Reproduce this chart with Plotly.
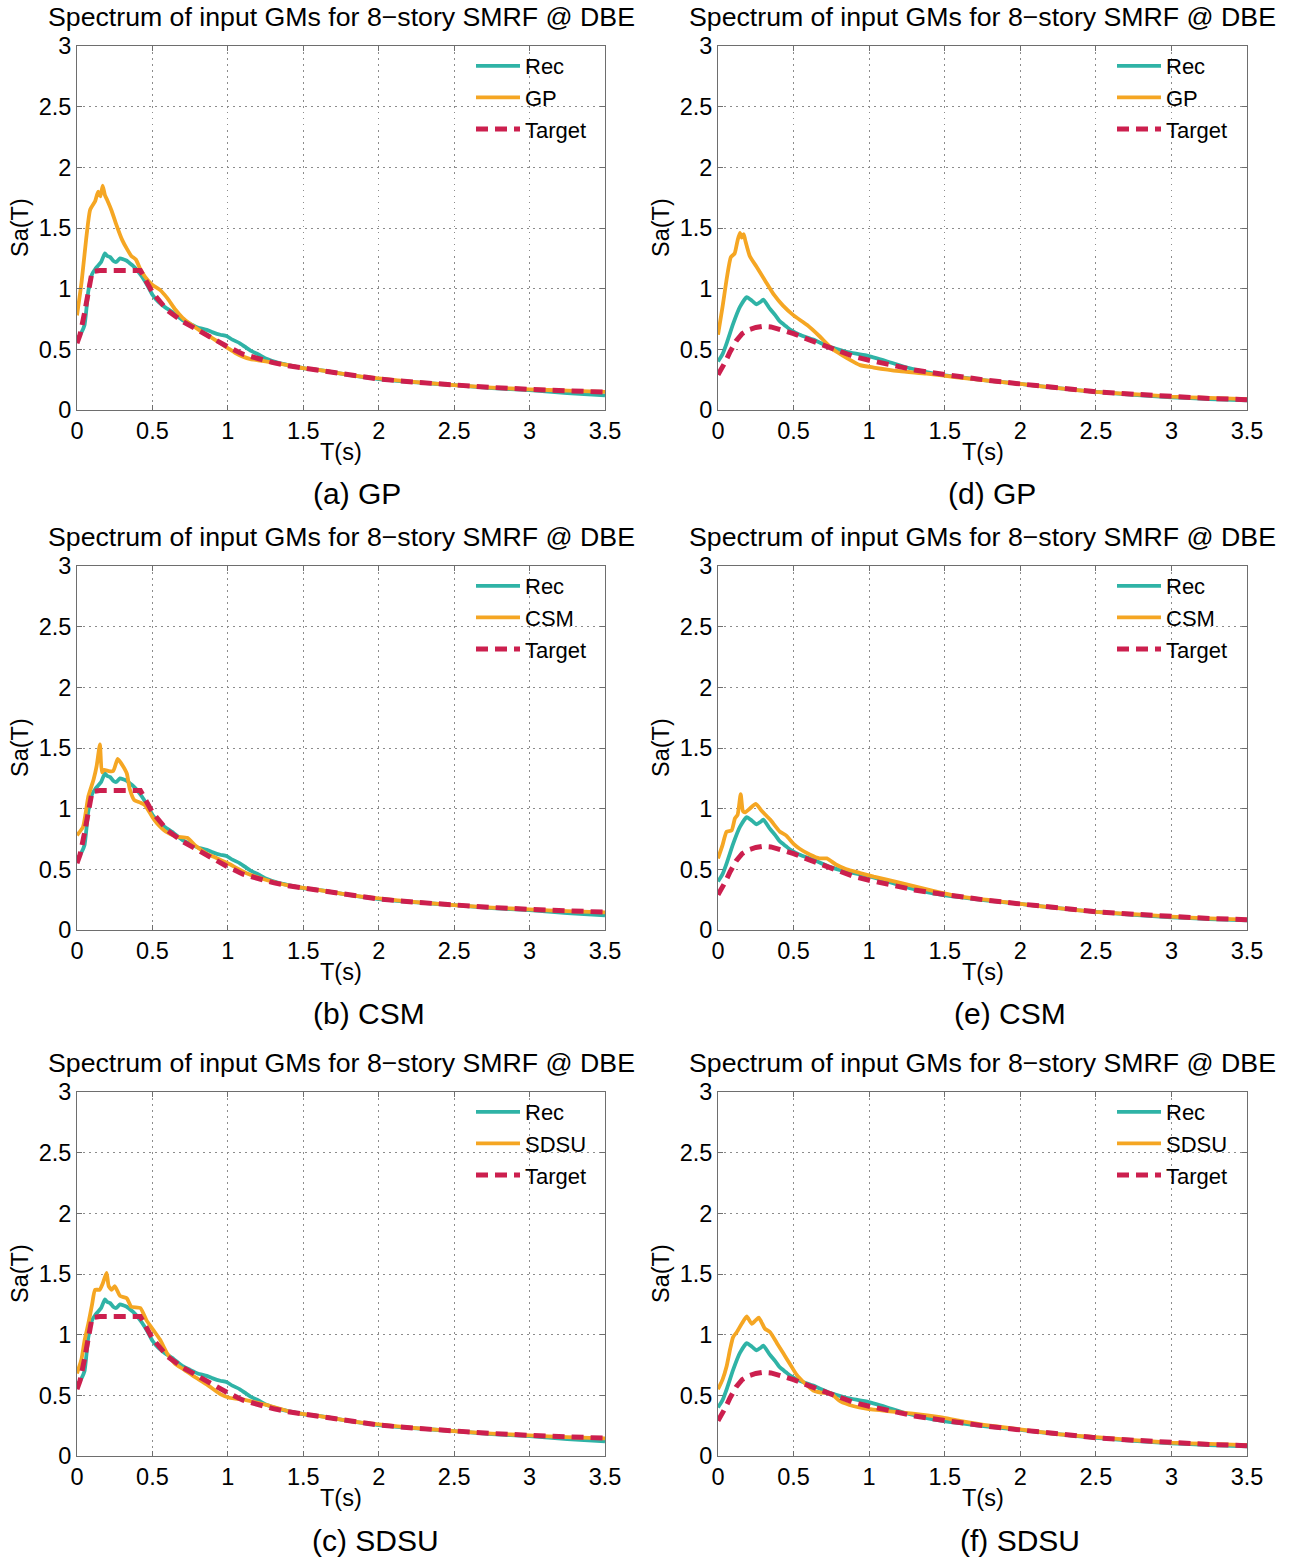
import plotly.graph_objects as go

# ---------------- data ----------------
x_ticks = [0, 0.5, 1, 1.5, 2, 2.5, 3, 3.5]
y_ticks = [0, 0.5, 1, 1.5, 2, 2.5, 3]

panel_title = "Spectrum of input GMs for 8\u2212story SMRF @ DBE"
panel_captions = ["(a) GP", "(b) CSM", "(c) SDSU", "(d) GP", "(e) CSM", "(f) SDSU"]
method_names = ["GP", "CSM", "SDSU", "GP", "CSM", "SDSU"]

# target spectrum, left column
target_left_T = [0.0, 0.02, 0.05, 0.1, 0.15, 0.2, 0.3, 0.42, 0.5, 0.6, 0.7, 0.8, 0.9, 1.0,
                 1.1, 1.2, 1.3, 1.4, 1.5, 1.75, 2.0, 2.25, 2.5, 2.75, 3.0, 3.25, 3.5]
target_left_sa = [0.55, 0.62, 0.80, 1.14, 1.15, 1.15, 1.15, 1.15, 0.97, 0.82, 0.73, 0.66, 0.58, 0.52,
                  0.46, 0.42, 0.39, 0.365, 0.345, 0.295, 0.255, 0.228, 0.205, 0.186, 0.17, 0.157, 0.147]

# recorded motions, left column
rec_left_T = [0.0, 0.03, 0.05, 0.075, 0.1, 0.12, 0.14, 0.16, 0.185, 0.2, 0.22, 0.24, 0.26, 0.285,
              0.31, 0.33, 0.35, 0.37, 0.4, 0.43, 0.47, 0.5, 0.54, 0.58, 0.64, 0.7, 0.75, 0.8, 0.86,
              0.9, 0.95, 0.99, 1.03, 1.08, 1.15, 1.2, 1.26, 1.33, 1.4, 1.5, 1.6, 1.7, 1.8, 2.0,
              2.25, 2.5, 2.75, 3.0, 3.25, 3.5]
rec_left_sa = [0.58, 0.64, 0.70, 0.98, 1.12, 1.16, 1.19, 1.22, 1.29, 1.27, 1.26, 1.23, 1.22, 1.25,
               1.24, 1.23, 1.21, 1.19, 1.15, 1.10, 1.02, 0.95, 0.89, 0.85, 0.80, 0.74, 0.71, 0.68, 0.66,
               0.64, 0.62, 0.61, 0.58, 0.55, 0.49, 0.46, 0.42, 0.39, 0.37, 0.345, 0.33, 0.31, 0.29, 0.255,
               0.228, 0.205, 0.18, 0.163, 0.14, 0.12]

# GP, left column
gp_left_T = [0.0, 0.03, 0.06, 0.087, 0.12, 0.14, 0.155, 0.17, 0.185, 0.2, 0.23, 0.26, 0.3, 0.33,
             0.36, 0.39, 0.42, 0.45, 0.5, 0.55, 0.6, 0.65, 0.7, 0.75, 0.82, 0.9, 0.95, 1.0, 1.05,
             1.1, 1.15, 1.2, 1.3, 1.4, 1.5, 1.6, 1.8, 2.0, 2.25, 2.5, 2.75, 3.0, 3.25, 3.5]
gp_left_sa = [0.78, 1.05, 1.40, 1.65, 1.72, 1.80, 1.76, 1.85, 1.77, 1.73, 1.64, 1.53, 1.40, 1.33,
              1.27, 1.24, 1.16, 1.10, 1.03, 0.99, 0.92, 0.83, 0.76, 0.71, 0.65, 0.59, 0.55, 0.51, 0.47,
              0.44, 0.42, 0.41, 0.39, 0.37, 0.345, 0.33, 0.29, 0.26, 0.23, 0.205, 0.185, 0.17, 0.16, 0.15]

# CSM, left column
csm_left_T = [0.0, 0.04, 0.075, 0.11, 0.13, 0.152, 0.165, 0.18, 0.21, 0.24, 0.27, 0.3, 0.33, 0.35,
              0.38, 0.42, 0.45, 0.5, 0.53, 0.59, 0.66, 0.73, 0.79, 0.86, 0.93, 1.0, 1.12, 1.26, 1.43,
              1.6, 1.8, 2.0, 2.25, 2.5, 2.75, 3.0, 3.25, 3.5]
csm_left_sa = [0.78, 0.85, 1.10, 1.24, 1.35, 1.53, 1.30, 1.32, 1.31, 1.31, 1.41, 1.36, 1.29, 1.16,
               1.07, 1.05, 1.03, 0.93, 0.88, 0.81, 0.77, 0.76, 0.69, 0.63, 0.59, 0.55, 0.47, 0.41, 0.36,
               0.33, 0.29, 0.26, 0.23, 0.205, 0.185, 0.17, 0.155, 0.145]

# SDSU, left column
sdsu_left_T = [0.0, 0.03, 0.05, 0.075, 0.1, 0.12, 0.15, 0.17, 0.196, 0.21, 0.23, 0.25, 0.285, 0.33,
               0.36, 0.42, 0.46, 0.505, 0.55, 0.6, 0.65, 0.7, 0.77, 0.86, 0.95, 1.01, 1.12, 1.26, 1.43,
               1.6, 1.8, 2.0, 2.25, 2.5, 2.75, 3.0, 3.25, 3.5]
sdsu_left_sa = [0.68, 0.80, 0.95, 1.09, 1.25, 1.37, 1.37, 1.42, 1.51, 1.40, 1.37, 1.40, 1.32, 1.30,
                1.23, 1.22, 1.12, 1.04, 0.96, 0.84, 0.76, 0.72, 0.66, 0.59, 0.51, 0.48, 0.46, 0.42, 0.36,
                0.33, 0.29, 0.26, 0.23, 0.205, 0.185, 0.17, 0.155, 0.145]

# target spectrum, right column
target_right_T = [0.0, 0.02, 0.05, 0.08, 0.12, 0.16, 0.2, 0.25, 0.3, 0.35, 0.4, 0.45, 0.5, 0.6, 0.7,
                  0.8, 0.9, 1.0, 1.1, 1.2, 1.3, 1.4, 1.5, 1.75, 2.0, 2.25, 2.5, 2.75, 3.0, 3.25, 3.5]
target_right_sa = [0.29, 0.33, 0.40, 0.48, 0.57, 0.63, 0.66, 0.68, 0.69, 0.685, 0.67, 0.65, 0.63, 0.58, 0.53,
                   0.48, 0.44, 0.41, 0.38, 0.35, 0.33, 0.31, 0.29, 0.25, 0.215, 0.18, 0.15, 0.13, 0.11, 0.095, 0.085]

# recorded motions, right column
rec_right_T = [0.0, 0.03, 0.06, 0.1, 0.145, 0.19, 0.225, 0.255, 0.28, 0.3, 0.34, 0.38, 0.41, 0.45,
               0.48, 0.54, 0.63, 0.74, 0.85, 0.98, 1.12, 1.25, 1.43, 1.6, 1.8, 2.0, 2.25, 2.5, 2.75,
               3.0, 3.25, 3.5]
rec_right_sa = [0.40, 0.46, 0.56, 0.71, 0.85, 0.93, 0.90, 0.87, 0.89, 0.91, 0.84, 0.78, 0.73, 0.69,
                0.66, 0.62, 0.58, 0.52, 0.48, 0.45, 0.40, 0.35, 0.30, 0.27, 0.24, 0.215, 0.18, 0.15, 0.125,
                0.105, 0.09, 0.08]

# GP, right column
gp_right_T = [0.0, 0.03, 0.06, 0.085, 0.11, 0.13, 0.145, 0.157, 0.17, 0.18, 0.21, 0.255, 0.31, 0.37,
              0.43, 0.5, 0.59, 0.67, 0.76, 0.85, 0.94, 1.03, 1.2, 1.38, 1.58, 1.8, 2.0, 2.25, 2.5,
              2.75, 3.0, 3.25, 3.5]
gp_right_sa = [0.62, 0.85, 1.10, 1.26, 1.29, 1.40, 1.46, 1.42, 1.45, 1.40, 1.27, 1.18, 1.07, 0.95,
               0.86, 0.78, 0.70, 0.61, 0.50, 0.43, 0.37, 0.35, 0.32, 0.30, 0.27, 0.24, 0.215, 0.18, 0.15,
               0.13, 0.11, 0.10, 0.09]

# CSM, right column
csm_right_T = [0.0, 0.03, 0.057, 0.09, 0.112, 0.13, 0.15, 0.165, 0.18, 0.21, 0.25, 0.29, 0.345, 0.41,
               0.45, 0.5, 0.54, 0.61, 0.67, 0.72, 0.78, 0.85, 0.94, 1.03, 1.2, 1.43, 1.58, 1.8, 2.0,
               2.25, 2.5, 2.75, 3.0, 3.25, 3.5]
csm_right_sa = [0.59, 0.70, 0.81, 0.82, 0.92, 0.95, 1.12, 0.98, 0.97, 1.00, 1.04, 0.98, 0.91, 0.81,
                0.78, 0.71, 0.67, 0.62, 0.59, 0.59, 0.54, 0.50, 0.47, 0.44, 0.39, 0.32, 0.28, 0.245, 0.215,
                0.18, 0.15, 0.13, 0.11, 0.095, 0.085]

# SDSU, right column
sdsu_right_T = [0.0, 0.03, 0.057, 0.08, 0.1, 0.124, 0.157, 0.19, 0.223, 0.25, 0.27, 0.31, 0.345, 0.39,
                0.43, 0.48, 0.52, 0.565, 0.63, 0.70, 0.74, 0.81, 0.90, 0.98, 1.12, 1.29, 1.47, 1.6, 1.8,
                2.0, 2.25, 2.5, 2.75, 3.0, 3.25, 3.5]
sdsu_right_sa = [0.55, 0.63, 0.74, 0.88, 0.98, 1.02, 1.09, 1.15, 1.09, 1.12, 1.14, 1.05, 1.02, 0.93,
                 0.85, 0.75, 0.67, 0.61, 0.54, 0.52, 0.52, 0.45, 0.41, 0.39, 0.37, 0.35, 0.32, 0.29, 0.25,
                 0.22, 0.18, 0.155, 0.13, 0.11, 0.10, 0.09]

# ---------------- layout helpers ----------------
W, H = 1289, 1560
FONT = "Liberation Sans, Arial, sans-serif"
C_REC = "#2fb3a6"
C_METHOD = "#f5a623"
C_TARGET = "#cc1f4e"

col_box = [(77, 605), (718, 1247)]               # plot-area left/right edges (px)
row_box = [(46, 410), (566, 930), (1092, 1456)]  # plot-area top/bottom edges (px)
caption_cx = [357, 369, 375, 992, 1010, 1020]


def fx(px):
    return px / W


def fy(py):
    return 1 - py / H


panels = [
    (rec_left_T, rec_left_sa, gp_left_T, gp_left_sa, target_left_T, target_left_sa),
    (rec_left_T, rec_left_sa, csm_left_T, csm_left_sa, target_left_T, target_left_sa),
    (rec_left_T, rec_left_sa, sdsu_left_T, sdsu_left_sa, target_left_T, target_left_sa),
    (rec_right_T, rec_right_sa, gp_right_T, gp_right_sa, target_right_T, target_right_sa),
    (rec_right_T, rec_right_sa, csm_right_T, csm_right_sa, target_right_T, target_right_sa),
    (rec_right_T, rec_right_sa, sdsu_right_T, sdsu_right_sa, target_right_T, target_right_sa),
]

fig = go.Figure()
layout = dict(
    width=W, height=H,
    margin=dict(l=0, r=0, t=0, b=0, pad=0, autoexpand=False),
    paper_bgcolor="white", plot_bgcolor="white",
    font=dict(family=FONT, color="black"),
    showlegend=True,
)
annotations = []

for i, (rT, rS, mT, mS, tT, tS) in enumerate(panels):
    n = i + 1
    col, row = i // 3, i % 3
    x0, x1 = col_box[col]
    y0, y1 = row_box[row]
    xa = "x" if n == 1 else f"x{n}"
    ya = "y" if n == 1 else f"y{n}"
    lg = "legend" if n == 1 else f"legend{n}"

    fig.add_trace(go.Scatter(x=rT, y=rS, mode="lines", name="Rec", xaxis=xa, yaxis=ya,
                             legend=lg, line=dict(color=C_REC, width=3.8, shape="spline",
                                                  smoothing=0.5)))
    fig.add_trace(go.Scatter(x=mT, y=mS, mode="lines", name=method_names[i], xaxis=xa, yaxis=ya,
                             legend=lg, line=dict(color=C_METHOD, width=3.8, shape="spline",
                                                  smoothing=0.5)))
    fig.add_trace(go.Scatter(x=tT, y=tS, mode="lines", name="Target", xaxis=xa, yaxis=ya,
                             legend=lg, line=dict(color=C_TARGET, width=5, dash="12px,7px")))

    common = dict(showgrid=True, gridcolor="#8c8c8c", griddash="1.5px,4.5px", gridwidth=1,
                  showline=True, linecolor="#6e6e6e", linewidth=1, mirror="ticks",
                  ticks="inside", ticklen=5, tickcolor="#6e6e6e", zeroline=False,
                  tickfont=dict(family=FONT, size=23.5, color="black"), fixedrange=True,
                  automargin=False)
    layout["xaxis" if n == 1 else f"xaxis{n}"] = dict(
        domain=[fx(x0), fx(x1)], range=[0, 3.5], tickvals=x_ticks, anchor=ya, **common)
    layout["yaxis" if n == 1 else f"yaxis{n}"] = dict(
        domain=[fy(y1), fy(y0)], range=[0, 3], tickvals=y_ticks, anchor=xa, **common)
    layout[lg] = dict(x=fx(x0 + 394), y=fy(y0 - 1), xanchor="left", yanchor="top",
                      bgcolor="rgba(0,0,0,0)", borderwidth=0, itemwidth=44,
                      tracegroupgap=0, font=dict(family=FONT, size=22, color="black"))

    cx = (x0 + x1) / 2
    annotations.append(dict(text=panel_title, x=fx(cx), y=fy(y0 - 29), xref="paper", yref="paper",
                            showarrow=False, xanchor="center", yanchor="middle",
                            font=dict(family=FONT, size=26.7, color="black")))
    annotations.append(dict(text="T(s)", x=fx(cx), y=fy(y1 + 42), xref="paper", yref="paper",
                            showarrow=False, xanchor="center", yanchor="middle",
                            font=dict(family=FONT, size=23.5, color="black")))
    annotations.append(dict(text="Sa(T)", x=fx(x0 - 57), y=fy((y0 + y1) / 2), xref="paper",
                            yref="paper", showarrow=False, textangle=-90, xanchor="center",
                            yanchor="middle", font=dict(family=FONT, size=23.5, color="black")))
    annotations.append(dict(text=panel_captions[i], x=fx(caption_cx[i]),
                            y=fy(y1 + 83 if row < 2 else y1 + 84), xref="paper", yref="paper",
                            showarrow=False, xanchor="center", yanchor="middle",
                            font=dict(family=FONT, size=30, color="black")))

layout["annotations"] = annotations
fig.update_layout(**layout)
fig.write_html("out.html")
